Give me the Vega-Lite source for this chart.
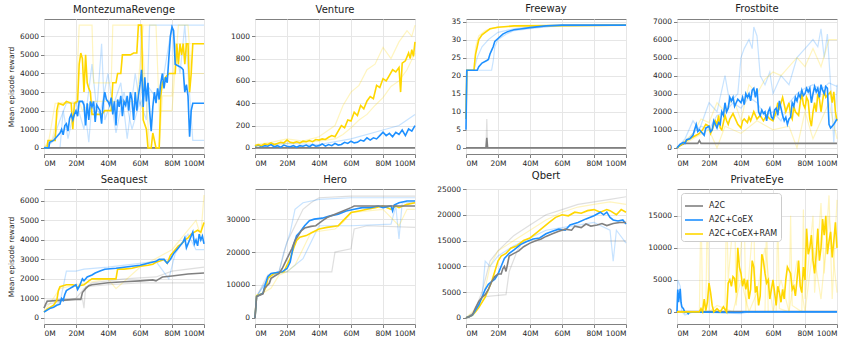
{
"$schema":"https://vega.github.io/schema/vega-lite/v6.json",
"padding":{"left":6,"top":3,"right":0,"bottom":0},
"config":{"font":"DejaVu Sans","view":{"stroke":"#808080","strokeWidth":1},
"axis":{"domain":false,"labelFontSize":7.5,"labelColor":"#262626","tickColor":"#808080","tickSize":3.5,"labelPadding":2,"gridColor":"#e6e6e6","gridWidth":1,"titleFontSize":7.5,"titleFontWeight":"normal","titleColor":"#262626","titlePadding":4},
"title":{"fontSize":10,"fontWeight":"normal","color":"#222222","offset":4},
"line":{"strokeWidth":1.6}},
"resolve":{"scale":{"x":"independent","y":"independent"},"legend":{"color":"independent"}},
"columns":4,"spacing":{"row":35,"column":51},"bounds":"flush",
"datasets":{
"mr":[
{"s":"c","r":"1","x":0,"y":0},{"s":"c","r":"1","x":10,"y":0},{"s":"c","r":"1","x":12,"y":2000},{"s":"c","r":"1","x":15,"y":500},{"s":"c","r":"1","x":20,"y":2500},{"s":"c","r":"1","x":25,"y":1000},{"s":"c","r":"1","x":30,"y":4500},{"s":"c","r":"1","x":33,"y":2000},{"s":"c","r":"1","x":36,"y":5600},{"s":"c","r":"1","x":38,"y":1500},{"s":"c","r":"1","x":42,"y":2500},{"s":"c","r":"1","x":45,"y":800},{"s":"c","r":"1","x":50,"y":3000},{"s":"c","r":"1","x":55,"y":1000},{"s":"c","r":"1","x":60,"y":2500},{"s":"c","r":"1","x":64,"y":1500},{"s":"c","r":"1","x":66,"y":6600},{"s":"c","r":"1","x":100,"y":6600},
{"s":"c","r":"2","x":0,"y":0},{"s":"c","r":"2","x":5,"y":300},{"s":"c","r":"2","x":10,"y":1500},{"s":"c","r":"2","x":14,"y":2400},{"s":"c","r":"2","x":20,"y":2400},{"s":"c","r":"2","x":25,"y":2500},{"s":"c","r":"2","x":28,"y":300},{"s":"c","r":"2","x":30,"y":2500},{"s":"c","r":"2","x":35,"y":1800},{"s":"c","r":"2","x":40,"y":4000},{"s":"c","r":"2","x":43,"y":2200},{"s":"c","r":"2","x":48,"y":3500},{"s":"c","r":"2","x":52,"y":500},{"s":"c","r":"2","x":57,"y":4000},{"s":"c","r":"2","x":60,"y":2300},{"s":"c","r":"2","x":65,"y":3300},{"s":"c","r":"2","x":70,"y":2700},{"s":"c","r":"2","x":75,"y":4000},{"s":"c","r":"2","x":80,"y":6600},{"s":"c","r":"2","x":85,"y":4000},{"s":"c","r":"2","x":88,"y":6600},{"s":"c","r":"2","x":93,"y":400},{"s":"c","r":"2","x":100,"y":400},
{"s":"r","r":"1","x":0,"y":0},{"s":"r","r":"1","x":3,"y":400},{"s":"r","r":"1","x":7,"y":2400},{"s":"r","r":"1","x":20,"y":2400},{"s":"r","r":"1","x":22,"y":6600},{"s":"r","r":"1","x":30,"y":6600},{"s":"r","r":"1","x":31,"y":3500},{"s":"r","r":"1","x":42,"y":3500},{"s":"r","r":"1","x":43,"y":6600},{"s":"r","r":"1","x":60,"y":6600},{"s":"r","r":"1","x":62,"y":5000},{"s":"r","r":"1","x":66,"y":0},{"s":"r","r":"1","x":72,"y":0},{"s":"r","r":"1","x":74,"y":2800},{"s":"r","r":"1","x":80,"y":2800},{"s":"r","r":"1","x":82,"y":5600},{"s":"r","r":"1","x":100,"y":5600},
{"s":"r","r":"2","x":0,"y":0},{"s":"r","r":"2","x":5,"y":400},{"s":"r","r":"2","x":10,"y":2400},{"s":"r","r":"2","x":22,"y":2500},{"s":"r","r":"2","x":24,"y":2000},{"s":"r","r":"2","x":30,"y":2500},{"s":"r","r":"2","x":58,"y":2500},{"s":"r","r":"2","x":62,"y":6600},{"s":"r","r":"2","x":70,"y":6600},{"s":"r","r":"2","x":72,"y":2000},{"s":"r","r":"2","x":80,"y":2000},{"s":"r","r":"2","x":84,"y":6600},{"s":"r","r":"2","x":90,"y":6600},{"s":"r","r":"2","x":92,"y":4000},{"s":"r","r":"2","x":100,"y":4000},
{"s":"a","r":"m","x":0,"y":0},{"s":"a","r":"m","x":100,"y":0},
{"s":"r","r":"m","x":0,"y":0},{"s":"r","r":"m","x":2,"y":0},{"s":"r","r":"m","x":2.5,"y":400},{"s":"r","r":"m","x":7,"y":400},{"s":"r","r":"m","x":8,"y":2000},{"s":"r","r":"m","x":9,"y":2400},{"s":"r","r":"m","x":12,"y":2300},{"s":"r","r":"m","x":14,"y":2500},{"s":"r","r":"m","x":17,"y":2400},{"s":"r","r":"m","x":18,"y":1000},{"s":"r","r":"m","x":19,"y":2400},{"s":"r","r":"m","x":21,"y":2500},{"s":"r","r":"m","x":22,"y":4500},{"s":"r","r":"m","x":23,"y":5100},{"s":"r","r":"m","x":24,"y":4800},{"s":"r","r":"m","x":25,"y":3000},{"s":"r","r":"m","x":26,"y":5000},{"s":"r","r":"m","x":27,"y":3500},{"s":"r","r":"m","x":28,"y":3200},{"s":"r","r":"m","x":29,"y":3000},{"s":"r","r":"m","x":30,"y":1800},{"s":"r","r":"m","x":36,"y":1800},{"s":"r","r":"m","x":38,"y":2000},{"s":"r","r":"m","x":42,"y":2000},{"s":"r","r":"m","x":43,"y":3500},{"s":"r","r":"m","x":45,"y":3500},{"s":"r","r":"m","x":46,"y":4000},{"s":"r","r":"m","x":48,"y":4000},{"s":"r","r":"m","x":49,"y":5000},{"s":"r","r":"m","x":54,"y":5000},{"s":"r","r":"m","x":56,"y":5100},{"s":"r","r":"m","x":58,"y":5100},{"s":"r","r":"m","x":59,"y":6600},{"s":"r","r":"m","x":61,"y":6600},{"s":"r","r":"m","x":62,"y":1500},{"s":"r","r":"m","x":64,"y":1000},{"s":"r","r":"m","x":65,"y":0},{"s":"r","r":"m","x":67,"y":0},{"s":"r","r":"m","x":68,"y":800},{"s":"r","r":"m","x":70,"y":0},{"s":"r","r":"m","x":72,"y":0},{"s":"r","r":"m","x":73,"y":2800},{"s":"r","r":"m","x":74,"y":3500},{"s":"r","r":"m","x":76,"y":3800},{"s":"r","r":"m","x":78,"y":4000},{"s":"r","r":"m","x":82,"y":4000},{"s":"r","r":"m","x":83,"y":5600},{"s":"r","r":"m","x":84,"y":4500},{"s":"r","r":"m","x":85,"y":5600},{"s":"r","r":"m","x":86,"y":5000},{"s":"r","r":"m","x":87,"y":5600},{"s":"r","r":"m","x":88,"y":4500},{"s":"r","r":"m","x":89,"y":5600},{"s":"r","r":"m","x":90,"y":5600},{"s":"r","r":"m","x":91,"y":3000},{"s":"r","r":"m","x":92,"y":4000},{"s":"r","r":"m","x":93,"y":5600},{"s":"r","r":"m","x":100,"y":5600},
{"s":"c","r":"m","x":0,"y":0},{"s":"c","r":"m","x":3,"y":0},{"s":"c","r":"m","x":3.5,"y":300},{"s":"c","r":"m","x":6,"y":400},{"s":"c","r":"m","x":8,"y":600},{"s":"c","r":"m","x":10,"y":800},{"s":"c","r":"m","x":11,"y":1000},{"s":"c","r":"m","x":12,"y":700},{"s":"c","r":"m","x":13,"y":1200},{"s":"c","r":"m","x":14,"y":1300},{"s":"c","r":"m","x":15,"y":900},{"s":"c","r":"m","x":16,"y":1600},{"s":"c","r":"m","x":17,"y":1800},{"s":"c","r":"m","x":18,"y":1500},{"s":"c","r":"m","x":19,"y":1800},{"s":"c","r":"m","x":20,"y":2000},{"s":"c","r":"m","x":21,"y":1700},{"s":"c","r":"m","x":22,"y":2500},{"s":"c","r":"m","x":24,"y":2500},{"s":"c","r":"m","x":25,"y":2300},{"s":"c","r":"m","x":26,"y":1200},{"s":"c","r":"m","x":27,"y":2400},{"s":"c","r":"m","x":28,"y":1500},{"s":"c","r":"m","x":29,"y":2500},{"s":"c","r":"m","x":30,"y":2200},{"s":"c","r":"m","x":31,"y":2500},{"s":"c","r":"m","x":32,"y":1400},{"s":"c","r":"m","x":33,"y":2300},{"s":"c","r":"m","x":35,"y":2000},{"s":"c","r":"m","x":36,"y":1300},{"s":"c","r":"m","x":37,"y":2400},{"s":"c","r":"m","x":38,"y":3000},{"s":"c","r":"m","x":39,"y":2600},{"s":"c","r":"m","x":40,"y":2500},{"s":"c","r":"m","x":41,"y":2300},{"s":"c","r":"m","x":42,"y":2700},{"s":"c","r":"m","x":43,"y":1800},{"s":"c","r":"m","x":44,"y":2500},{"s":"c","r":"m","x":45,"y":1200},{"s":"c","r":"m","x":46,"y":2600},{"s":"c","r":"m","x":47,"y":2200},{"s":"c","r":"m","x":48,"y":2800},{"s":"c","r":"m","x":49,"y":1700},{"s":"c","r":"m","x":50,"y":2500},{"s":"c","r":"m","x":51,"y":2300},{"s":"c","r":"m","x":52,"y":2800},{"s":"c","r":"m","x":53,"y":2000},{"s":"c","r":"m","x":54,"y":3000},{"s":"c","r":"m","x":55,"y":2600},{"s":"c","r":"m","x":56,"y":1500},{"s":"c","r":"m","x":57,"y":3000},{"s":"c","r":"m","x":58,"y":2000},{"s":"c","r":"m","x":59,"y":2800},{"s":"c","r":"m","x":60,"y":3400},{"s":"c","r":"m","x":61,"y":4200},{"s":"c","r":"m","x":62,"y":2200},{"s":"c","r":"m","x":63,"y":3800},{"s":"c","r":"m","x":64,"y":2500},{"s":"c","r":"m","x":65,"y":3500},{"s":"c","r":"m","x":66,"y":2000},{"s":"c","r":"m","x":67,"y":900},{"s":"c","r":"m","x":68,"y":2200},{"s":"c","r":"m","x":69,"y":3000},{"s":"c","r":"m","x":70,"y":2400},{"s":"c","r":"m","x":71,"y":3200},{"s":"c","r":"m","x":72,"y":2600},{"s":"c","r":"m","x":73,"y":3500},{"s":"c","r":"m","x":74,"y":4000},{"s":"c","r":"m","x":75,"y":3200},{"s":"c","r":"m","x":76,"y":3800},{"s":"c","r":"m","x":77,"y":3500},{"s":"c","r":"m","x":78,"y":4800},{"s":"c","r":"m","x":79,"y":6000},{"s":"c","r":"m","x":80,"y":6500},{"s":"c","r":"m","x":81,"y":6300},{"s":"c","r":"m","x":82,"y":4500},{"s":"c","r":"m","x":84,"y":4400},{"s":"c","r":"m","x":86,"y":4300},{"s":"c","r":"m","x":87,"y":4200},{"s":"c","r":"m","x":88,"y":3000},{"s":"c","r":"m","x":89,"y":3400},{"s":"c","r":"m","x":90,"y":2800},{"s":"c","r":"m","x":91,"y":600},{"s":"c","r":"m","x":92,"y":2000},{"s":"c","r":"m","x":93,"y":2400},{"s":"c","r":"m","x":100,"y":2400}
],
"ve":[
{"s":"r","r":"1","x":0,"y":30},{"s":"r","r":"1","x":10,"y":50},{"s":"r","r":"1","x":20,"y":80},{"s":"r","r":"1","x":30,"y":60},{"s":"r","r":"1","x":40,"y":100},{"s":"r","r":"1","x":50,"y":200},{"s":"r","r":"1","x":55,"y":380},{"s":"r","r":"1","x":60,"y":500},{"s":"r","r":"1","x":65,"y":560},{"s":"r","r":"1","x":70,"y":700},{"s":"r","r":"1","x":75,"y":750},{"s":"r","r":"1","x":80,"y":900},{"s":"r","r":"1","x":85,"y":800},{"s":"r","r":"1","x":90,"y":950},{"s":"r","r":"1","x":95,"y":1050},{"s":"r","r":"1","x":98,"y":1000},{"s":"r","r":"1","x":100,"y":1100},
{"s":"r","r":"2","x":0,"y":10},{"s":"r","r":"2","x":10,"y":30},{"s":"r","r":"2","x":20,"y":40},{"s":"r","r":"2","x":30,"y":50},{"s":"r","r":"2","x":40,"y":60},{"s":"r","r":"2","x":50,"y":80},{"s":"r","r":"2","x":55,"y":120},{"s":"r","r":"2","x":60,"y":180},{"s":"r","r":"2","x":65,"y":250},{"s":"r","r":"2","x":70,"y":300},{"s":"r","r":"2","x":75,"y":380},{"s":"r","r":"2","x":80,"y":450},{"s":"r","r":"2","x":85,"y":550},{"s":"r","r":"2","x":90,"y":600},{"s":"r","r":"2","x":95,"y":700},{"s":"r","r":"2","x":100,"y":850},
{"s":"c","r":"1","x":0,"y":20},{"s":"c","r":"1","x":20,"y":40},{"s":"c","r":"1","x":40,"y":30},{"s":"c","r":"1","x":60,"y":80},{"s":"c","r":"1","x":80,"y":160},{"s":"c","r":"1","x":90,"y":200},{"s":"c","r":"1","x":100,"y":300},
{"s":"a","r":"m","x":0,"y":0},{"s":"a","r":"m","x":100,"y":0},
{"s":"c","r":"m","x":0,"y":15},{"s":"c","r":"m","x":2,"y":25},{"s":"c","r":"m","x":4,"y":10},{"s":"c","r":"m","x":6,"y":20},{"s":"c","r":"m","x":8,"y":15},{"s":"c","r":"m","x":10,"y":30},{"s":"c","r":"m","x":12,"y":10},{"s":"c","r":"m","x":14,"y":20},{"s":"c","r":"m","x":16,"y":5},{"s":"c","r":"m","x":18,"y":25},{"s":"c","r":"m","x":20,"y":15},{"s":"c","r":"m","x":22,"y":10},{"s":"c","r":"m","x":24,"y":20},{"s":"c","r":"m","x":26,"y":5},{"s":"c","r":"m","x":28,"y":20},{"s":"c","r":"m","x":30,"y":15},{"s":"c","r":"m","x":32,"y":25},{"s":"c","r":"m","x":34,"y":10},{"s":"c","r":"m","x":36,"y":30},{"s":"c","r":"m","x":38,"y":15},{"s":"c","r":"m","x":40,"y":20},{"s":"c","r":"m","x":42,"y":35},{"s":"c","r":"m","x":44,"y":15},{"s":"c","r":"m","x":46,"y":30},{"s":"c","r":"m","x":48,"y":20},{"s":"c","r":"m","x":50,"y":40},{"s":"c","r":"m","x":52,"y":25},{"s":"c","r":"m","x":54,"y":30},{"s":"c","r":"m","x":56,"y":50},{"s":"c","r":"m","x":58,"y":40},{"s":"c","r":"m","x":60,"y":60},{"s":"c","r":"m","x":62,"y":45},{"s":"c","r":"m","x":64,"y":50},{"s":"c","r":"m","x":66,"y":70},{"s":"c","r":"m","x":68,"y":60},{"s":"c","r":"m","x":70,"y":90},{"s":"c","r":"m","x":72,"y":70},{"s":"c","r":"m","x":74,"y":90},{"s":"c","r":"m","x":76,"y":80},{"s":"c","r":"m","x":78,"y":110},{"s":"c","r":"m","x":80,"y":140},{"s":"c","r":"m","x":82,"y":110},{"s":"c","r":"m","x":84,"y":130},{"s":"c","r":"m","x":86,"y":100},{"s":"c","r":"m","x":88,"y":140},{"s":"c","r":"m","x":90,"y":120},{"s":"c","r":"m","x":92,"y":160},{"s":"c","r":"m","x":94,"y":110},{"s":"c","r":"m","x":96,"y":170},{"s":"c","r":"m","x":98,"y":150},{"s":"c","r":"m","x":100,"y":200},
{"s":"r","r":"m","x":0,"y":20},{"s":"r","r":"m","x":2,"y":30},{"s":"r","r":"m","x":4,"y":20},{"s":"r","r":"m","x":6,"y":35},{"s":"r","r":"m","x":8,"y":30},{"s":"r","r":"m","x":10,"y":45},{"s":"r","r":"m","x":12,"y":30},{"s":"r","r":"m","x":14,"y":40},{"s":"r","r":"m","x":16,"y":50},{"s":"r","r":"m","x":18,"y":45},{"s":"r","r":"m","x":20,"y":70},{"s":"r","r":"m","x":22,"y":50},{"s":"r","r":"m","x":24,"y":45},{"s":"r","r":"m","x":26,"y":55},{"s":"r","r":"m","x":28,"y":45},{"s":"r","r":"m","x":30,"y":60},{"s":"r","r":"m","x":32,"y":55},{"s":"r","r":"m","x":34,"y":65},{"s":"r","r":"m","x":36,"y":55},{"s":"r","r":"m","x":38,"y":75},{"s":"r","r":"m","x":40,"y":70},{"s":"r","r":"m","x":42,"y":80},{"s":"r","r":"m","x":44,"y":75},{"s":"r","r":"m","x":46,"y":95},{"s":"r","r":"m","x":48,"y":110},{"s":"r","r":"m","x":50,"y":100},{"s":"r","r":"m","x":52,"y":150},{"s":"r","r":"m","x":54,"y":200},{"s":"r","r":"m","x":56,"y":180},{"s":"r","r":"m","x":58,"y":250},{"s":"r","r":"m","x":60,"y":240},{"s":"r","r":"m","x":62,"y":320},{"s":"r","r":"m","x":64,"y":290},{"s":"r","r":"m","x":66,"y":380},{"s":"r","r":"m","x":68,"y":350},{"s":"r","r":"m","x":70,"y":420},{"s":"r","r":"m","x":72,"y":460},{"s":"r","r":"m","x":74,"y":440},{"s":"r","r":"m","x":76,"y":560},{"s":"r","r":"m","x":78,"y":540},{"s":"r","r":"m","x":80,"y":620},{"s":"r","r":"m","x":82,"y":600},{"s":"r","r":"m","x":84,"y":650},{"s":"r","r":"m","x":86,"y":700},{"s":"r","r":"m","x":88,"y":680},{"s":"r","r":"m","x":90,"y":720},{"s":"r","r":"m","x":91,"y":500},{"s":"r","r":"m","x":92,"y":760},{"s":"r","r":"m","x":94,"y":780},{"s":"r","r":"m","x":96,"y":850},{"s":"r","r":"m","x":97,"y":800},{"s":"r","r":"m","x":98,"y":880},{"s":"r","r":"m","x":99,"y":820},{"s":"r","r":"m","x":100,"y":950}
],
"fr":[
{"s":"a","r":"1","x":0,"y":0},{"s":"a","r":"1","x":12.5,"y":0},{"s":"a","r":"1","x":13,"y":8},{"s":"a","r":"1","x":13.5,"y":0},{"s":"a","r":"1","x":100,"y":0},
{"s":"c","r":"1","x":0,"y":8},{"s":"c","r":"1","x":0.5,"y":21.5},{"s":"c","r":"1","x":16,"y":21.5},{"s":"c","r":"1","x":17,"y":24},{"s":"c","r":"1","x":18,"y":28},{"s":"c","r":"1","x":20,"y":30},{"s":"c","r":"1","x":25,"y":31.5},{"s":"c","r":"1","x":30,"y":32.5},{"s":"c","r":"1","x":40,"y":33},{"s":"c","r":"1","x":50,"y":33.5},{"s":"c","r":"1","x":60,"y":34},{"s":"c","r":"1","x":100,"y":34},
{"s":"c","r":"2","x":0,"y":8},{"s":"c","r":"2","x":0.5,"y":21.5},{"s":"c","r":"2","x":5,"y":21.5},{"s":"c","r":"2","x":7,"y":25},{"s":"c","r":"2","x":10,"y":28},{"s":"c","r":"2","x":14,"y":30},{"s":"c","r":"2","x":20,"y":32},{"s":"c","r":"2","x":30,"y":33},{"s":"c","r":"2","x":40,"y":33.5},{"s":"c","r":"2","x":100,"y":34},
{"s":"r","r":"1","x":0,"y":8},{"s":"r","r":"1","x":0.5,"y":21.5},{"s":"r","r":"1","x":5,"y":21.5},{"s":"r","r":"1","x":6,"y":28},{"s":"r","r":"1","x":8,"y":31},{"s":"r","r":"1","x":12,"y":32.5},{"s":"r","r":"1","x":20,"y":33.5},{"s":"r","r":"1","x":100,"y":34},
{"s":"a","r":"m","x":0,"y":0},{"s":"a","r":"m","x":12.5,"y":0},{"s":"a","r":"m","x":13,"y":2.8},{"s":"a","r":"m","x":13.5,"y":0},{"s":"a","r":"m","x":100,"y":0},
{"s":"r","r":"m","x":0,"y":8},{"s":"r","r":"m","x":0.5,"y":21.5},{"s":"r","r":"m","x":5,"y":21.5},{"s":"r","r":"m","x":5.5,"y":24},{"s":"r","r":"m","x":6,"y":26},{"s":"r","r":"m","x":7,"y":28},{"s":"r","r":"m","x":8,"y":30},{"s":"r","r":"m","x":10,"y":31.3},{"s":"r","r":"m","x":12,"y":32},{"s":"r","r":"m","x":15,"y":33},{"s":"r","r":"m","x":20,"y":33.4},{"s":"r","r":"m","x":30,"y":33.8},{"s":"r","r":"m","x":100,"y":34},
{"s":"c","r":"m","x":0,"y":5},{"s":"c","r":"m","x":0.5,"y":21.5},{"s":"c","r":"m","x":7,"y":21.5},{"s":"c","r":"m","x":8,"y":22.5},{"s":"c","r":"m","x":10,"y":23.5},{"s":"c","r":"m","x":13,"y":24.2},{"s":"c","r":"m","x":14,"y":24.5},{"s":"c","r":"m","x":15,"y":26},{"s":"c","r":"m","x":16,"y":27},{"s":"c","r":"m","x":17,"y":28},{"s":"c","r":"m","x":18,"y":29.5},{"s":"c","r":"m","x":20,"y":30.3},{"s":"c","r":"m","x":23,"y":31.5},{"s":"c","r":"m","x":26,"y":32.2},{"s":"c","r":"m","x":30,"y":32.7},{"s":"c","r":"m","x":35,"y":33},{"s":"c","r":"m","x":40,"y":33.3},{"s":"c","r":"m","x":50,"y":33.8},{"s":"c","r":"m","x":60,"y":34},{"s":"c","r":"m","x":100,"y":34}
],
"fb":[
{"s":"c","r":"1","x":0,"y":0},{"s":"c","r":"1","x":5,"y":500},{"s":"c","r":"1","x":10,"y":1500},{"s":"c","r":"1","x":14,"y":1000},{"s":"c","r":"1","x":20,"y":2500},{"s":"c","r":"1","x":25,"y":2000},{"s":"c","r":"1","x":30,"y":4000},{"s":"c","r":"1","x":33,"y":2500},{"s":"c","r":"1","x":38,"y":3000},{"s":"c","r":"1","x":40,"y":5000},{"s":"c","r":"1","x":42,"y":5500},{"s":"c","r":"1","x":45,"y":6000},{"s":"c","r":"1","x":47,"y":5500},{"s":"c","r":"1","x":48,"y":6700},{"s":"c","r":"1","x":50,"y":6200},{"s":"c","r":"1","x":52,"y":4000},{"s":"c","r":"1","x":55,"y":3500},{"s":"c","r":"1","x":58,"y":4200},{"s":"c","r":"1","x":60,"y":3000},{"s":"c","r":"1","x":65,"y":4000},{"s":"c","r":"1","x":70,"y":3500},{"s":"c","r":"1","x":75,"y":5000},{"s":"c","r":"1","x":80,"y":5500},{"s":"c","r":"1","x":85,"y":6000},{"s":"c","r":"1","x":88,"y":5600},{"s":"c","r":"1","x":90,"y":6600},{"s":"c","r":"1","x":92,"y":5000},{"s":"c","r":"1","x":94,"y":6300},{"s":"c","r":"1","x":96,"y":3500},{"s":"c","r":"1","x":98,"y":300},{"s":"c","r":"1","x":100,"y":3500},
{"s":"c","r":"2","x":0,"y":0},{"s":"c","r":"2","x":5,"y":300},{"s":"c","r":"2","x":10,"y":800},{"s":"c","r":"2","x":15,"y":1200},{"s":"c","r":"2","x":20,"y":1000},{"s":"c","r":"2","x":25,"y":1800},{"s":"c","r":"2","x":30,"y":2000},{"s":"c","r":"2","x":35,"y":2500},{"s":"c","r":"2","x":40,"y":2200},{"s":"c","r":"2","x":45,"y":2800},{"s":"c","r":"2","x":50,"y":2500},{"s":"c","r":"2","x":55,"y":1800},{"s":"c","r":"2","x":60,"y":2000},{"s":"c","r":"2","x":65,"y":1500},{"s":"c","r":"2","x":70,"y":2500},{"s":"c","r":"2","x":75,"y":3000},{"s":"c","r":"2","x":80,"y":3300},{"s":"c","r":"2","x":85,"y":3500},{"s":"c","r":"2","x":90,"y":3200},{"s":"c","r":"2","x":95,"y":3600},{"s":"c","r":"2","x":100,"y":3400},
{"s":"r","r":"1","x":0,"y":0},{"s":"r","r":"1","x":5,"y":400},{"s":"r","r":"1","x":10,"y":800},{"s":"r","r":"1","x":15,"y":1600},{"s":"r","r":"1","x":20,"y":1400},{"s":"r","r":"1","x":25,"y":2500},{"s":"r","r":"1","x":30,"y":2000},{"s":"r","r":"1","x":35,"y":2800},{"s":"r","r":"1","x":40,"y":1500},{"s":"r","r":"1","x":45,"y":3500},{"s":"r","r":"1","x":50,"y":3000},{"s":"r","r":"1","x":55,"y":3800},{"s":"r","r":"1","x":60,"y":4200},{"s":"r","r":"1","x":65,"y":4000},{"s":"r","r":"1","x":70,"y":4500},{"s":"r","r":"1","x":75,"y":5000},{"s":"r","r":"1","x":80,"y":4500},{"s":"r","r":"1","x":85,"y":5500},{"s":"r","r":"1","x":90,"y":4500},{"s":"r","r":"1","x":95,"y":6000},{"s":"r","r":"1","x":100,"y":6000},
{"s":"r","r":"2","x":0,"y":0},{"s":"r","r":"2","x":10,"y":500},{"s":"r","r":"2","x":20,"y":1000},{"s":"r","r":"2","x":25,"y":0},{"s":"r","r":"2","x":30,"y":1200},{"s":"r","r":"2","x":40,"y":800},{"s":"r","r":"2","x":50,"y":1500},{"s":"r","r":"2","x":60,"y":1000},{"s":"r","r":"2","x":70,"y":1200},{"s":"r","r":"2","x":75,"y":0},{"s":"r","r":"2","x":80,"y":2000},{"s":"r","r":"2","x":85,"y":500},{"s":"r","r":"2","x":90,"y":1500},{"s":"r","r":"2","x":95,"y":2500},{"s":"r","r":"2","x":100,"y":500},
{"s":"a","r":"m","x":0,"y":0},{"s":"a","r":"m","x":2,"y":150},{"s":"a","r":"m","x":5,"y":250},{"s":"a","r":"m","x":13,"y":250},{"s":"a","r":"m","x":14,"y":400},{"s":"a","r":"m","x":15,"y":250},{"s":"a","r":"m","x":100,"y":250},
{"s":"r","r":"m","x":0,"y":0},{"s":"r","r":"m","x":3,"y":200},{"s":"r","r":"m","x":6,"y":400},{"s":"r","r":"m","x":8,"y":500},{"s":"r","r":"m","x":10,"y":600},{"s":"r","r":"m","x":12,"y":700},{"s":"r","r":"m","x":14,"y":800},{"s":"r","r":"m","x":16,"y":1000},{"s":"r","r":"m","x":18,"y":1300},{"s":"r","r":"m","x":20,"y":1200},{"s":"r","r":"m","x":21,"y":800},{"s":"r","r":"m","x":22,"y":1000},{"s":"r","r":"m","x":24,"y":1500},{"s":"r","r":"m","x":25,"y":1300},{"s":"r","r":"m","x":26,"y":1800},{"s":"r","r":"m","x":27,"y":1100},{"s":"r","r":"m","x":28,"y":1000},{"s":"r","r":"m","x":29,"y":1400},{"s":"r","r":"m","x":30,"y":1800},{"s":"r","r":"m","x":31,"y":1500},{"s":"r","r":"m","x":32,"y":1300},{"s":"r","r":"m","x":33,"y":1600},{"s":"r","r":"m","x":35,"y":1900},{"s":"r","r":"m","x":36,"y":1700},{"s":"r","r":"m","x":38,"y":1300},{"s":"r","r":"m","x":40,"y":1100},{"s":"r","r":"m","x":41,"y":1500},{"s":"r","r":"m","x":42,"y":1600},{"s":"r","r":"m","x":44,"y":1400},{"s":"r","r":"m","x":45,"y":1700},{"s":"r","r":"m","x":46,"y":1500},{"s":"r","r":"m","x":48,"y":2000},{"s":"r","r":"m","x":50,"y":1600},{"s":"r","r":"m","x":52,"y":1800},{"s":"r","r":"m","x":54,"y":1500},{"s":"r","r":"m","x":56,"y":1800},{"s":"r","r":"m","x":58,"y":1600},{"s":"r","r":"m","x":60,"y":1500},{"s":"r","r":"m","x":62,"y":2000},{"s":"r","r":"m","x":63,"y":2500},{"s":"r","r":"m","x":64,"y":2200},{"s":"r","r":"m","x":66,"y":2800},{"s":"r","r":"m","x":67,"y":2400},{"s":"r","r":"m","x":68,"y":2000},{"s":"r","r":"m","x":70,"y":2500},{"s":"r","r":"m","x":71,"y":1800},{"s":"r","r":"m","x":72,"y":1600},{"s":"r","r":"m","x":73,"y":2300},{"s":"r","r":"m","x":74,"y":2000},{"s":"r","r":"m","x":76,"y":1800},{"s":"r","r":"m","x":77,"y":2500},{"s":"r","r":"m","x":78,"y":3000},{"s":"r","r":"m","x":79,"y":2400},{"s":"r","r":"m","x":80,"y":2200},{"s":"r","r":"m","x":81,"y":2800},{"s":"r","r":"m","x":82,"y":2600},{"s":"r","r":"m","x":83,"y":1600},{"s":"r","r":"m","x":84,"y":1200},{"s":"r","r":"m","x":85,"y":2000},{"s":"r","r":"m","x":86,"y":2500},{"s":"r","r":"m","x":87,"y":2000},{"s":"r","r":"m","x":88,"y":3000},{"s":"r","r":"m","x":89,"y":2700},{"s":"r","r":"m","x":90,"y":2000},{"s":"r","r":"m","x":91,"y":2600},{"s":"r","r":"m","x":92,"y":3200},{"s":"r","r":"m","x":93,"y":2800},{"s":"r","r":"m","x":94,"y":2900},{"s":"r","r":"m","x":96,"y":3100},{"s":"r","r":"m","x":97,"y":2500},{"s":"r","r":"m","x":98,"y":3100},{"s":"r","r":"m","x":99,"y":2000},{"s":"r","r":"m","x":100,"y":1500},
{"s":"c","r":"m","x":0,"y":0},{"s":"c","r":"m","x":2,"y":200},{"s":"c","r":"m","x":4,"y":300},{"s":"c","r":"m","x":5,"y":250},{"s":"c","r":"m","x":6,"y":450},{"s":"c","r":"m","x":8,"y":500},{"s":"c","r":"m","x":10,"y":700},{"s":"c","r":"m","x":11,"y":1000},{"s":"c","r":"m","x":12,"y":1300},{"s":"c","r":"m","x":13,"y":900},{"s":"c","r":"m","x":14,"y":1000},{"s":"c","r":"m","x":16,"y":800},{"s":"c","r":"m","x":17,"y":700},{"s":"c","r":"m","x":18,"y":1100},{"s":"c","r":"m","x":20,"y":1200},{"s":"c","r":"m","x":21,"y":900},{"s":"c","r":"m","x":22,"y":1000},{"s":"c","r":"m","x":23,"y":1500},{"s":"c","r":"m","x":24,"y":1300},{"s":"c","r":"m","x":25,"y":1100},{"s":"c","r":"m","x":26,"y":1400},{"s":"c","r":"m","x":27,"y":1300},{"s":"c","r":"m","x":28,"y":2000},{"s":"c","r":"m","x":29,"y":1800},{"s":"c","r":"m","x":30,"y":2500},{"s":"c","r":"m","x":31,"y":2000},{"s":"c","r":"m","x":32,"y":2200},{"s":"c","r":"m","x":33,"y":2800},{"s":"c","r":"m","x":34,"y":2600},{"s":"c","r":"m","x":35,"y":2800},{"s":"c","r":"m","x":36,"y":2300},{"s":"c","r":"m","x":37,"y":2500},{"s":"c","r":"m","x":38,"y":2700},{"s":"c","r":"m","x":40,"y":2500},{"s":"c","r":"m","x":41,"y":2800},{"s":"c","r":"m","x":42,"y":2400},{"s":"c","r":"m","x":43,"y":3000},{"s":"c","r":"m","x":44,"y":2800},{"s":"c","r":"m","x":45,"y":3000},{"s":"c","r":"m","x":46,"y":2600},{"s":"c","r":"m","x":47,"y":3200},{"s":"c","r":"m","x":48,"y":3300},{"s":"c","r":"m","x":49,"y":2800},{"s":"c","r":"m","x":50,"y":3300},{"s":"c","r":"m","x":51,"y":2000},{"s":"c","r":"m","x":52,"y":1800},{"s":"c","r":"m","x":53,"y":2100},{"s":"c","r":"m","x":54,"y":1900},{"s":"c","r":"m","x":55,"y":2000},{"s":"c","r":"m","x":56,"y":1500},{"s":"c","r":"m","x":57,"y":2000},{"s":"c","r":"m","x":58,"y":2200},{"s":"c","r":"m","x":59,"y":1700},{"s":"c","r":"m","x":60,"y":1600},{"s":"c","r":"m","x":61,"y":2100},{"s":"c","r":"m","x":62,"y":2200},{"s":"c","r":"m","x":63,"y":1800},{"s":"c","r":"m","x":64,"y":2600},{"s":"c","r":"m","x":65,"y":2200},{"s":"c","r":"m","x":66,"y":1800},{"s":"c","r":"m","x":67,"y":1500},{"s":"c","r":"m","x":68,"y":1700},{"s":"c","r":"m","x":69,"y":1300},{"s":"c","r":"m","x":70,"y":1600},{"s":"c","r":"m","x":71,"y":1700},{"s":"c","r":"m","x":72,"y":2500},{"s":"c","r":"m","x":73,"y":2300},{"s":"c","r":"m","x":74,"y":2800},{"s":"c","r":"m","x":75,"y":2600},{"s":"c","r":"m","x":76,"y":3000},{"s":"c","r":"m","x":77,"y":2800},{"s":"c","r":"m","x":78,"y":3200},{"s":"c","r":"m","x":79,"y":2900},{"s":"c","r":"m","x":80,"y":3000},{"s":"c","r":"m","x":81,"y":3300},{"s":"c","r":"m","x":82,"y":3100},{"s":"c","r":"m","x":83,"y":3300},{"s":"c","r":"m","x":84,"y":2500},{"s":"c","r":"m","x":85,"y":3000},{"s":"c","r":"m","x":86,"y":3400},{"s":"c","r":"m","x":87,"y":3100},{"s":"c","r":"m","x":88,"y":3300},{"s":"c","r":"m","x":89,"y":2800},{"s":"c","r":"m","x":90,"y":3500},{"s":"c","r":"m","x":91,"y":3200},{"s":"c","r":"m","x":92,"y":3000},{"s":"c","r":"m","x":93,"y":3400},{"s":"c","r":"m","x":94,"y":3300},{"s":"c","r":"m","x":95,"y":1300},{"s":"c","r":"m","x":96,"y":1100},{"s":"c","r":"m","x":97,"y":1200},{"s":"c","r":"m","x":98,"y":1300},{"s":"c","r":"m","x":100,"y":1600}
],
"sq":[
{"s":"a","r":"1","x":0,"y":500},{"s":"a","r":"1","x":2,"y":700},{"s":"a","r":"1","x":20,"y":1000},{"s":"a","r":"1","x":24,"y":1000},{"s":"a","r":"1","x":25,"y":500},{"s":"a","r":"1","x":26,"y":1600},{"s":"a","r":"1","x":40,"y":1700},{"s":"a","r":"1","x":60,"y":1800},{"s":"a","r":"1","x":100,"y":1800},
{"s":"a","r":"2","x":0,"y":500},{"s":"a","r":"2","x":2,"y":900},{"s":"a","r":"2","x":20,"y":1000},{"s":"a","r":"2","x":25,"y":1500},{"s":"a","r":"2","x":30,"y":1800},{"s":"a","r":"2","x":50,"y":2000},{"s":"a","r":"2","x":70,"y":2100},{"s":"a","r":"2","x":80,"y":2400},{"s":"a","r":"2","x":90,"y":2500},{"s":"a","r":"2","x":100,"y":2600},
{"s":"c","r":"1","x":0,"y":300},{"s":"c","r":"1","x":10,"y":800},{"s":"c","r":"1","x":14,"y":2400},{"s":"c","r":"1","x":20,"y":2400},{"s":"c","r":"1","x":25,"y":2500},{"s":"c","r":"1","x":40,"y":2600},{"s":"c","r":"1","x":60,"y":2800},{"s":"c","r":"1","x":70,"y":2900},{"s":"c","r":"1","x":78,"y":2000},{"s":"c","r":"1","x":82,"y":3300},{"s":"c","r":"1","x":90,"y":4300},{"s":"c","r":"1","x":95,"y":3500},{"s":"c","r":"1","x":100,"y":3500},
{"s":"r","r":"1","x":0,"y":300},{"s":"r","r":"1","x":10,"y":1500},{"s":"r","r":"1","x":20,"y":1700},{"s":"r","r":"1","x":40,"y":2000},{"s":"r","r":"1","x":45,"y":1500},{"s":"r","r":"1","x":60,"y":2600},{"s":"r","r":"1","x":80,"y":3500},{"s":"r","r":"1","x":90,"y":4500},{"s":"r","r":"1","x":95,"y":5000},{"s":"r","r":"1","x":98,"y":4200},{"s":"r","r":"1","x":100,"y":6300},
{"s":"a","r":"m","x":0,"y":500},{"s":"a","r":"m","x":1,"y":700},{"s":"a","r":"m","x":2,"y":850},{"s":"a","r":"m","x":10,"y":900},{"s":"a","r":"m","x":20,"y":950},{"s":"a","r":"m","x":23,"y":950},{"s":"a","r":"m","x":24,"y":1300},{"s":"a","r":"m","x":26,"y":1500},{"s":"a","r":"m","x":28,"y":1650},{"s":"a","r":"m","x":30,"y":1700},{"s":"a","r":"m","x":40,"y":1800},{"s":"a","r":"m","x":50,"y":1850},{"s":"a","r":"m","x":60,"y":1900},{"s":"a","r":"m","x":68,"y":1950},{"s":"a","r":"m","x":70,"y":1900},{"s":"a","r":"m","x":71,"y":1950},{"s":"a","r":"m","x":74,"y":2100},{"s":"a","r":"m","x":80,"y":2150},{"s":"a","r":"m","x":90,"y":2250},{"s":"a","r":"m","x":100,"y":2300},
{"s":"r","r":"m","x":0,"y":300},{"s":"r","r":"m","x":2,"y":450},{"s":"r","r":"m","x":4,"y":550},{"s":"r","r":"m","x":6,"y":650},{"s":"r","r":"m","x":8,"y":900},{"s":"r","r":"m","x":9,"y":1400},{"s":"r","r":"m","x":10,"y":1600},{"s":"r","r":"m","x":14,"y":1700},{"s":"r","r":"m","x":18,"y":1700},{"s":"r","r":"m","x":20,"y":1650},{"s":"r","r":"m","x":21,"y":1500},{"s":"r","r":"m","x":22,"y":1650},{"s":"r","r":"m","x":25,"y":1700},{"s":"r","r":"m","x":28,"y":1900},{"s":"r","r":"m","x":30,"y":2000},{"s":"r","r":"m","x":45,"y":2000},{"s":"r","r":"m","x":46,"y":2500},{"s":"r","r":"m","x":50,"y":2500},{"s":"r","r":"m","x":55,"y":2550},{"s":"r","r":"m","x":60,"y":2650},{"s":"r","r":"m","x":65,"y":2700},{"s":"r","r":"m","x":68,"y":2750},{"s":"r","r":"m","x":70,"y":2850},{"s":"r","r":"m","x":72,"y":2900},{"s":"r","r":"m","x":75,"y":3000},{"s":"r","r":"m","x":77,"y":2800},{"s":"r","r":"m","x":79,"y":3200},{"s":"r","r":"m","x":82,"y":3500},{"s":"r","r":"m","x":84,"y":3700},{"s":"r","r":"m","x":86,"y":3800},{"s":"r","r":"m","x":88,"y":4000},{"s":"r","r":"m","x":90,"y":4100},{"s":"r","r":"m","x":92,"y":4300},{"s":"r","r":"m","x":94,"y":4400},{"s":"r","r":"m","x":96,"y":4500},{"s":"r","r":"m","x":98,"y":4400},{"s":"r","r":"m","x":100,"y":4900},
{"s":"c","r":"m","x":0,"y":300},{"s":"c","r":"m","x":2,"y":400},{"s":"c","r":"m","x":4,"y":500},{"s":"c","r":"m","x":6,"y":550},{"s":"c","r":"m","x":8,"y":650},{"s":"c","r":"m","x":10,"y":700},{"s":"c","r":"m","x":11,"y":1000},{"s":"c","r":"m","x":12,"y":900},{"s":"c","r":"m","x":13,"y":1200},{"s":"c","r":"m","x":14,"y":1400},{"s":"c","r":"m","x":16,"y":1500},{"s":"c","r":"m","x":18,"y":1600},{"s":"c","r":"m","x":20,"y":1700},{"s":"c","r":"m","x":21,"y":1450},{"s":"c","r":"m","x":22,"y":1600},{"s":"c","r":"m","x":24,"y":2000},{"s":"c","r":"m","x":25,"y":1900},{"s":"c","r":"m","x":27,"y":2100},{"s":"c","r":"m","x":30,"y":2200},{"s":"c","r":"m","x":32,"y":2300},{"s":"c","r":"m","x":35,"y":2400},{"s":"c","r":"m","x":38,"y":2500},{"s":"c","r":"m","x":45,"y":2550},{"s":"c","r":"m","x":50,"y":2600},{"s":"c","r":"m","x":55,"y":2650},{"s":"c","r":"m","x":60,"y":2700},{"s":"c","r":"m","x":65,"y":2800},{"s":"c","r":"m","x":70,"y":2900},{"s":"c","r":"m","x":72,"y":3000},{"s":"c","r":"m","x":75,"y":3000},{"s":"c","r":"m","x":77,"y":2800},{"s":"c","r":"m","x":79,"y":3000},{"s":"c","r":"m","x":81,"y":3300},{"s":"c","r":"m","x":83,"y":3500},{"s":"c","r":"m","x":85,"y":3700},{"s":"c","r":"m","x":87,"y":3900},{"s":"c","r":"m","x":88,"y":4100},{"s":"c","r":"m","x":89,"y":3600},{"s":"c","r":"m","x":90,"y":3800},{"s":"c","r":"m","x":92,"y":4200},{"s":"c","r":"m","x":93,"y":4400},{"s":"c","r":"m","x":94,"y":3800},{"s":"c","r":"m","x":95,"y":4000},{"s":"c","r":"m","x":96,"y":3700},{"s":"c","r":"m","x":97,"y":4300},{"s":"c","r":"m","x":98,"y":4000},{"s":"c","r":"m","x":99,"y":4200},{"s":"c","r":"m","x":100,"y":3800}
],
"he":[
{"s":"a","r":"1","x":0,"y":0},{"s":"a","r":"1","x":1,"y":6500},{"s":"a","r":"1","x":5,"y":7500},{"s":"a","r":"1","x":7,"y":10000},{"s":"a","r":"1","x":14,"y":14000},{"s":"a","r":"1","x":48,"y":14000},{"s":"a","r":"1","x":50,"y":20000},{"s":"a","r":"1","x":60,"y":21000},{"s":"a","r":"1","x":62,"y":27000},{"s":"a","r":"1","x":70,"y":28000},{"s":"a","r":"1","x":100,"y":27500},
{"s":"a","r":"2","x":0,"y":0},{"s":"a","r":"2","x":1,"y":6500},{"s":"a","r":"2","x":8,"y":13000},{"s":"a","r":"2","x":15,"y":14000},{"s":"a","r":"2","x":20,"y":23000},{"s":"a","r":"2","x":25,"y":28000},{"s":"a","r":"2","x":30,"y":33000},{"s":"a","r":"2","x":35,"y":35000},{"s":"a","r":"2","x":40,"y":36500},{"s":"a","r":"2","x":60,"y":37000},{"s":"a","r":"2","x":100,"y":37000},
{"s":"c","r":"1","x":0,"y":0},{"s":"c","r":"1","x":1,"y":6500},{"s":"c","r":"1","x":10,"y":13500},{"s":"c","r":"1","x":15,"y":14000},{"s":"c","r":"1","x":18,"y":20000},{"s":"c","r":"1","x":22,"y":26000},{"s":"c","r":"1","x":25,"y":33000},{"s":"c","r":"1","x":30,"y":35000},{"s":"c","r":"1","x":40,"y":36000},{"s":"c","r":"1","x":60,"y":36500},{"s":"c","r":"1","x":100,"y":36500},
{"s":"c","r":"2","x":0,"y":0},{"s":"c","r":"2","x":1,"y":6500},{"s":"c","r":"2","x":10,"y":13000},{"s":"c","r":"2","x":20,"y":14000},{"s":"c","r":"2","x":30,"y":18000},{"s":"c","r":"2","x":40,"y":28000},{"s":"c","r":"2","x":60,"y":28000},{"s":"c","r":"2","x":85,"y":28500},{"s":"c","r":"2","x":88,"y":34000},{"s":"c","r":"2","x":90,"y":24000},{"s":"c","r":"2","x":92,"y":35000},{"s":"c","r":"2","x":100,"y":35000},
{"s":"r","r":"1","x":0,"y":0},{"s":"r","r":"1","x":1,"y":6500},{"s":"r","r":"1","x":10,"y":9000},{"s":"r","r":"1","x":15,"y":13000},{"s":"r","r":"1","x":20,"y":14000},{"s":"r","r":"1","x":25,"y":16000},{"s":"r","r":"1","x":35,"y":26000},{"s":"r","r":"1","x":50,"y":27000},{"s":"r","r":"1","x":55,"y":29000},{"s":"r","r":"1","x":60,"y":32000},{"s":"r","r":"1","x":80,"y":33000},{"s":"r","r":"1","x":90,"y":28000},{"s":"r","r":"1","x":95,"y":33000},{"s":"r","r":"1","x":100,"y":33000},
{"s":"r","r":"m","x":0,"y":0},{"s":"r","r":"m","x":1,"y":6800},{"s":"r","r":"m","x":5,"y":7500},{"s":"r","r":"m","x":7,"y":9500},{"s":"r","r":"m","x":8,"y":12000},{"s":"r","r":"m","x":12,"y":13500},{"s":"r","r":"m","x":18,"y":14000},{"s":"r","r":"m","x":20,"y":16000},{"s":"r","r":"m","x":22,"y":18000},{"s":"r","r":"m","x":24,"y":21000},{"s":"r","r":"m","x":26,"y":23500},{"s":"r","r":"m","x":28,"y":24500},{"s":"r","r":"m","x":32,"y":25000},{"s":"r","r":"m","x":36,"y":26000},{"s":"r","r":"m","x":40,"y":27000},{"s":"r","r":"m","x":45,"y":27500},{"s":"r","r":"m","x":52,"y":28000},{"s":"r","r":"m","x":56,"y":30000},{"s":"r","r":"m","x":60,"y":32000},{"s":"r","r":"m","x":65,"y":32500},{"s":"r","r":"m","x":70,"y":33000},{"s":"r","r":"m","x":75,"y":33500},{"s":"r","r":"m","x":80,"y":34000},{"s":"r","r":"m","x":85,"y":33000},{"s":"r","r":"m","x":88,"y":34000},{"s":"r","r":"m","x":90,"y":33500},{"s":"r","r":"m","x":95,"y":34500},{"s":"r","r":"m","x":100,"y":35000},
{"s":"c","r":"m","x":0,"y":0},{"s":"c","r":"m","x":1,"y":6500},{"s":"c","r":"m","x":5,"y":7500},{"s":"c","r":"m","x":6,"y":9500},{"s":"c","r":"m","x":8,"y":12500},{"s":"c","r":"m","x":10,"y":13500},{"s":"c","r":"m","x":17,"y":14000},{"s":"c","r":"m","x":20,"y":15000},{"s":"c","r":"m","x":22,"y":17000},{"s":"c","r":"m","x":24,"y":22000},{"s":"c","r":"m","x":26,"y":25000},{"s":"c","r":"m","x":28,"y":26000},{"s":"c","r":"m","x":31,"y":28000},{"s":"c","r":"m","x":34,"y":29500},{"s":"c","r":"m","x":37,"y":30000},{"s":"c","r":"m","x":42,"y":30300},{"s":"c","r":"m","x":47,"y":31000},{"s":"c","r":"m","x":52,"y":31500},{"s":"c","r":"m","x":57,"y":32500},{"s":"c","r":"m","x":62,"y":33000},{"s":"c","r":"m","x":67,"y":33500},{"s":"c","r":"m","x":72,"y":33500},{"s":"c","r":"m","x":77,"y":34000},{"s":"c","r":"m","x":80,"y":33500},{"s":"c","r":"m","x":85,"y":34000},{"s":"c","r":"m","x":86,"y":32500},{"s":"c","r":"m","x":87,"y":34300},{"s":"c","r":"m","x":90,"y":35000},{"s":"c","r":"m","x":95,"y":35500},{"s":"c","r":"m","x":100,"y":35500},
{"s":"a","r":"m","x":0,"y":0},{"s":"a","r":"m","x":1,"y":6500},{"s":"a","r":"m","x":5,"y":7300},{"s":"a","r":"m","x":6,"y":9000},{"s":"a","r":"m","x":9,"y":10500},{"s":"a","r":"m","x":10,"y":12000},{"s":"a","r":"m","x":15,"y":13500},{"s":"a","r":"m","x":17,"y":15000},{"s":"a","r":"m","x":19,"y":17000},{"s":"a","r":"m","x":21,"y":19000},{"s":"a","r":"m","x":23,"y":21000},{"s":"a","r":"m","x":25,"y":23500},{"s":"a","r":"m","x":27,"y":25000},{"s":"a","r":"m","x":29,"y":26500},{"s":"a","r":"m","x":31,"y":27300},{"s":"a","r":"m","x":35,"y":27800},{"s":"a","r":"m","x":38,"y":28000},{"s":"a","r":"m","x":42,"y":29500},{"s":"a","r":"m","x":45,"y":30500},{"s":"a","r":"m","x":50,"y":31500},{"s":"a","r":"m","x":55,"y":32500},{"s":"a","r":"m","x":60,"y":33500},{"s":"a","r":"m","x":62,"y":34000},{"s":"a","r":"m","x":100,"y":34000}
],
"qb":[
{"s":"a","r":"1","x":0,"y":0},{"s":"a","r":"1","x":5,"y":1000},{"s":"a","r":"1","x":10,"y":4000},{"s":"a","r":"1","x":15,"y":4200},{"s":"a","r":"1","x":25,"y":4500},{"s":"a","r":"1","x":27,"y":9000},{"s":"a","r":"1","x":32,"y":13000},{"s":"a","r":"1","x":35,"y":14500},{"s":"a","r":"1","x":40,"y":15000},{"s":"a","r":"1","x":100,"y":15000},
{"s":"a","r":"2","x":0,"y":0},{"s":"a","r":"2","x":5,"y":1000},{"s":"a","r":"2","x":10,"y":5000},{"s":"a","r":"2","x":15,"y":11000},{"s":"a","r":"2","x":20,"y":13000},{"s":"a","r":"2","x":30,"y":16000},{"s":"a","r":"2","x":40,"y":18000},{"s":"a","r":"2","x":50,"y":20000},{"s":"a","r":"2","x":60,"y":21000},{"s":"a","r":"2","x":70,"y":22000},{"s":"a","r":"2","x":80,"y":22500},{"s":"a","r":"2","x":90,"y":23000},{"s":"a","r":"2","x":100,"y":23500},
{"s":"c","r":"1","x":0,"y":0},{"s":"c","r":"1","x":5,"y":1000},{"s":"c","r":"1","x":10,"y":4000},{"s":"c","r":"1","x":12,"y":11000},{"s":"c","r":"1","x":15,"y":10000},{"s":"c","r":"1","x":20,"y":12000},{"s":"c","r":"1","x":30,"y":14000},{"s":"c","r":"1","x":40,"y":15500},{"s":"c","r":"1","x":50,"y":17000},{"s":"c","r":"1","x":60,"y":17500},{"s":"c","r":"1","x":70,"y":18000},{"s":"c","r":"1","x":80,"y":18500},{"s":"c","r":"1","x":90,"y":17000},{"s":"c","r":"1","x":92,"y":11000},{"s":"c","r":"1","x":94,"y":17000},{"s":"c","r":"1","x":100,"y":14500},
{"s":"r","r":"1","x":0,"y":0},{"s":"r","r":"1","x":10,"y":3000},{"s":"r","r":"1","x":15,"y":10000},{"s":"r","r":"1","x":20,"y":13000},{"s":"r","r":"1","x":30,"y":15000},{"s":"r","r":"1","x":40,"y":17000},{"s":"r","r":"1","x":50,"y":19000},{"s":"r","r":"1","x":60,"y":20500},{"s":"r","r":"1","x":70,"y":21500},{"s":"r","r":"1","x":80,"y":22000},{"s":"r","r":"1","x":90,"y":22500},{"s":"r","r":"1","x":100,"y":22000},
{"s":"r","r":"m","x":0,"y":0},{"s":"r","r":"m","x":2,"y":200},{"s":"r","r":"m","x":4,"y":500},{"s":"r","r":"m","x":6,"y":1200},{"s":"r","r":"m","x":8,"y":2000},{"s":"r","r":"m","x":10,"y":3000},{"s":"r","r":"m","x":12,"y":4000},{"s":"r","r":"m","x":14,"y":5500},{"s":"r","r":"m","x":16,"y":7000},{"s":"r","r":"m","x":18,"y":9000},{"s":"r","r":"m","x":20,"y":11000},{"s":"r","r":"m","x":22,"y":12000},{"s":"r","r":"m","x":25,"y":12500},{"s":"r","r":"m","x":28,"y":13500},{"s":"r","r":"m","x":32,"y":14000},{"s":"r","r":"m","x":36,"y":15000},{"s":"r","r":"m","x":40,"y":15500},{"s":"r","r":"m","x":44,"y":16500},{"s":"r","r":"m","x":48,"y":17500},{"s":"r","r":"m","x":52,"y":18500},{"s":"r","r":"m","x":56,"y":19500},{"s":"r","r":"m","x":60,"y":20000},{"s":"r","r":"m","x":64,"y":19800},{"s":"r","r":"m","x":68,"y":20500},{"s":"r","r":"m","x":72,"y":20300},{"s":"r","r":"m","x":76,"y":20800},{"s":"r","r":"m","x":80,"y":21000},{"s":"r","r":"m","x":84,"y":20500},{"s":"r","r":"m","x":88,"y":21000},{"s":"r","r":"m","x":90,"y":20800},{"s":"r","r":"m","x":94,"y":20000},{"s":"r","r":"m","x":97,"y":21000},{"s":"r","r":"m","x":100,"y":20500},
{"s":"c","r":"m","x":0,"y":0},{"s":"c","r":"m","x":2,"y":200},{"s":"c","r":"m","x":4,"y":500},{"s":"c","r":"m","x":6,"y":1500},{"s":"c","r":"m","x":8,"y":2500},{"s":"c","r":"m","x":10,"y":4000},{"s":"c","r":"m","x":12,"y":5500},{"s":"c","r":"m","x":14,"y":6500},{"s":"c","r":"m","x":16,"y":7000},{"s":"c","r":"m","x":18,"y":7500},{"s":"c","r":"m","x":20,"y":8500},{"s":"c","r":"m","x":22,"y":10000},{"s":"c","r":"m","x":24,"y":11500},{"s":"c","r":"m","x":27,"y":12500},{"s":"c","r":"m","x":30,"y":13200},{"s":"c","r":"m","x":34,"y":14200},{"s":"c","r":"m","x":38,"y":14800},{"s":"c","r":"m","x":42,"y":15300},{"s":"c","r":"m","x":46,"y":15500},{"s":"c","r":"m","x":50,"y":16300},{"s":"c","r":"m","x":54,"y":16800},{"s":"c","r":"m","x":58,"y":17200},{"s":"c","r":"m","x":62,"y":17000},{"s":"c","r":"m","x":65,"y":18000},{"s":"c","r":"m","x":70,"y":18500},{"s":"c","r":"m","x":75,"y":19200},{"s":"c","r":"m","x":80,"y":19800},{"s":"c","r":"m","x":84,"y":20500},{"s":"c","r":"m","x":86,"y":20000},{"s":"c","r":"m","x":88,"y":20500},{"s":"c","r":"m","x":90,"y":19500},{"s":"c","r":"m","x":92,"y":19000},{"s":"c","r":"m","x":95,"y":18800},{"s":"c","r":"m","x":98,"y":19000},{"s":"c","r":"m","x":100,"y":18200},
{"s":"a","r":"m","x":0,"y":0},{"s":"a","r":"m","x":2,"y":200},{"s":"a","r":"m","x":4,"y":600},{"s":"a","r":"m","x":6,"y":2000},{"s":"a","r":"m","x":8,"y":3200},{"s":"a","r":"m","x":10,"y":4000},{"s":"a","r":"m","x":12,"y":4500},{"s":"a","r":"m","x":14,"y":5500},{"s":"a","r":"m","x":16,"y":7000},{"s":"a","r":"m","x":18,"y":8000},{"s":"a","r":"m","x":20,"y":8500},{"s":"a","r":"m","x":22,"y":8500},{"s":"a","r":"m","x":23,"y":9500},{"s":"a","r":"m","x":24,"y":10000},{"s":"a","r":"m","x":25,"y":9000},{"s":"a","r":"m","x":26,"y":10500},{"s":"a","r":"m","x":27,"y":12000},{"s":"a","r":"m","x":30,"y":12500},{"s":"a","r":"m","x":33,"y":13000},{"s":"a","r":"m","x":36,"y":13800},{"s":"a","r":"m","x":40,"y":14500},{"s":"a","r":"m","x":44,"y":15000},{"s":"a","r":"m","x":47,"y":15300},{"s":"a","r":"m","x":50,"y":15800},{"s":"a","r":"m","x":54,"y":16300},{"s":"a","r":"m","x":58,"y":16800},{"s":"a","r":"m","x":62,"y":17200},{"s":"a","r":"m","x":66,"y":17000},{"s":"a","r":"m","x":68,"y":17800},{"s":"a","r":"m","x":72,"y":17500},{"s":"a","r":"m","x":75,"y":18200},{"s":"a","r":"m","x":78,"y":17800},{"s":"a","r":"m","x":82,"y":18000},{"s":"a","r":"m","x":85,"y":18300},{"s":"a","r":"m","x":88,"y":17900},{"s":"a","r":"m","x":92,"y":18300},{"s":"a","r":"m","x":96,"y":18500},{"s":"a","r":"m","x":100,"y":18500}
],
"pe":[
{"s":"r","r":"1","x":0,"y":0},{"s":"r","r":"1","x":14,"y":0},{"s":"r","r":"1","x":15,"y":17500},{"s":"r","r":"1","x":16,"y":0},{"s":"r","r":"1","x":18,"y":0},{"s":"r","r":"1","x":19,"y":17500},{"s":"r","r":"1","x":20,"y":0},{"s":"r","r":"1","x":30,"y":0},{"s":"r","r":"1","x":31,"y":17500},{"s":"r","r":"1","x":32,"y":5000},{"s":"r","r":"1","x":36,"y":17000},{"s":"r","r":"1","x":37,"y":1000},{"s":"r","r":"1","x":42,"y":16000},{"s":"r","r":"1","x":43,"y":0},{"s":"r","r":"1","x":48,"y":15000},{"s":"r","r":"1","x":49,"y":0},{"s":"r","r":"1","x":55,"y":0},{"s":"r","r":"1","x":56,"y":15000},{"s":"r","r":"1","x":57,"y":0},{"s":"r","r":"1","x":62,"y":0},{"s":"r","r":"1","x":63,"y":16000},{"s":"r","r":"1","x":64,"y":500},{"s":"r","r":"1","x":70,"y":0},{"s":"r","r":"1","x":71,"y":15000},{"s":"r","r":"1","x":72,"y":1000},{"s":"r","r":"1","x":78,"y":0},{"s":"r","r":"1","x":79,"y":16000},{"s":"r","r":"1","x":80,"y":2000},{"s":"r","r":"1","x":85,"y":15000},{"s":"r","r":"1","x":86,"y":3000},{"s":"r","r":"1","x":90,"y":17000},{"s":"r","r":"1","x":92,"y":6000},{"s":"r","r":"1","x":95,"y":18200},{"s":"r","r":"1","x":97,"y":2000},{"s":"r","r":"1","x":100,"y":17500},
{"s":"r","r":"2","x":0,"y":0},{"s":"r","r":"2","x":20,"y":0},{"s":"r","r":"2","x":25,"y":1000},{"s":"r","r":"2","x":35,"y":0},{"s":"r","r":"2","x":40,"y":5000},{"s":"r","r":"2","x":45,"y":0},{"s":"r","r":"2","x":50,"y":3000},{"s":"r","r":"2","x":55,"y":10000},{"s":"r","r":"2","x":60,"y":0},{"s":"r","r":"2","x":65,"y":5000},{"s":"r","r":"2","x":70,"y":0},{"s":"r","r":"2","x":75,"y":8000},{"s":"r","r":"2","x":80,"y":0},{"s":"r","r":"2","x":85,"y":10000},{"s":"r","r":"2","x":90,"y":2000},{"s":"r","r":"2","x":95,"y":15000},{"s":"r","r":"2","x":100,"y":3000},
{"s":"c","r":"1","x":0,"y":0},{"s":"c","r":"1","x":0.5,"y":5000},{"s":"c","r":"1","x":2,"y":4000},{"s":"c","r":"1","x":3,"y":0},{"s":"c","r":"1","x":5,"y":-500},{"s":"c","r":"1","x":10,"y":0},{"s":"c","r":"1","x":40,"y":-300},{"s":"c","r":"1","x":45,"y":0},{"s":"c","r":"1","x":100,"y":0},
{"s":"a","r":"m","x":0,"y":50},{"s":"a","r":"m","x":100,"y":50},
{"s":"c","r":"m","x":0,"y":0},{"s":"c","r":"m","x":0.5,"y":3500},{"s":"c","r":"m","x":1,"y":1500},{"s":"c","r":"m","x":1.5,"y":2500},{"s":"c","r":"m","x":2,"y":3600},{"s":"c","r":"m","x":2.5,"y":1500},{"s":"c","r":"m","x":3,"y":800},{"s":"c","r":"m","x":4,"y":500},{"s":"c","r":"m","x":5,"y":-100},{"s":"c","r":"m","x":6,"y":0},{"s":"c","r":"m","x":7,"y":-300},{"s":"c","r":"m","x":8,"y":0},{"s":"c","r":"m","x":40,"y":-100},{"s":"c","r":"m","x":42,"y":0},{"s":"c","r":"m","x":100,"y":0},
{"s":"r","r":"m","x":0,"y":0},{"s":"r","r":"m","x":14,"y":0},{"s":"r","r":"m","x":15,"y":500},{"s":"r","r":"m","x":16,"y":0},{"s":"r","r":"m","x":17,"y":2000},{"s":"r","r":"m","x":18,"y":200},{"s":"r","r":"m","x":19,"y":1500},{"s":"r","r":"m","x":20,"y":4500},{"s":"r","r":"m","x":21,"y":3000},{"s":"r","r":"m","x":22,"y":1000},{"s":"r","r":"m","x":23,"y":0},{"s":"r","r":"m","x":25,"y":500},{"s":"r","r":"m","x":27,"y":0},{"s":"r","r":"m","x":29,"y":800},{"s":"r","r":"m","x":31,"y":0},{"s":"r","r":"m","x":32,"y":4500},{"s":"r","r":"m","x":33,"y":5000},{"s":"r","r":"m","x":34,"y":4000},{"s":"r","r":"m","x":35,"y":5500},{"s":"r","r":"m","x":36,"y":5200},{"s":"r","r":"m","x":37,"y":3000},{"s":"r","r":"m","x":38,"y":10000},{"s":"r","r":"m","x":39,"y":7000},{"s":"r","r":"m","x":40,"y":6000},{"s":"r","r":"m","x":41,"y":4000},{"s":"r","r":"m","x":42,"y":5200},{"s":"r","r":"m","x":43,"y":3500},{"s":"r","r":"m","x":44,"y":5000},{"s":"r","r":"m","x":45,"y":2000},{"s":"r","r":"m","x":46,"y":3500},{"s":"r","r":"m","x":47,"y":8000},{"s":"r","r":"m","x":48,"y":7000},{"s":"r","r":"m","x":49,"y":3000},{"s":"r","r":"m","x":50,"y":4000},{"s":"r","r":"m","x":51,"y":1000},{"s":"r","r":"m","x":52,"y":2500},{"s":"r","r":"m","x":53,"y":9000},{"s":"r","r":"m","x":54,"y":8000},{"s":"r","r":"m","x":55,"y":6000},{"s":"r","r":"m","x":56,"y":4500},{"s":"r","r":"m","x":57,"y":5000},{"s":"r","r":"m","x":58,"y":2000},{"s":"r","r":"m","x":59,"y":3500},{"s":"r","r":"m","x":60,"y":5000},{"s":"r","r":"m","x":61,"y":3000},{"s":"r","r":"m","x":62,"y":1000},{"s":"r","r":"m","x":63,"y":4000},{"s":"r","r":"m","x":64,"y":3000},{"s":"r","r":"m","x":65,"y":1500},{"s":"r","r":"m","x":66,"y":3500},{"s":"r","r":"m","x":67,"y":2000},{"s":"r","r":"m","x":68,"y":5000},{"s":"r","r":"m","x":69,"y":7000},{"s":"r","r":"m","x":70,"y":6500},{"s":"r","r":"m","x":71,"y":6000},{"s":"r","r":"m","x":72,"y":3500},{"s":"r","r":"m","x":73,"y":4000},{"s":"r","r":"m","x":74,"y":2500},{"s":"r","r":"m","x":75,"y":5000},{"s":"r","r":"m","x":76,"y":8000},{"s":"r","r":"m","x":77,"y":4000},{"s":"r","r":"m","x":78,"y":3000},{"s":"r","r":"m","x":79,"y":7000},{"s":"r","r":"m","x":80,"y":5000},{"s":"r","r":"m","x":81,"y":13000},{"s":"r","r":"m","x":82,"y":9000},{"s":"r","r":"m","x":83,"y":10000},{"s":"r","r":"m","x":84,"y":12000},{"s":"r","r":"m","x":85,"y":8000},{"s":"r","r":"m","x":86,"y":6000},{"s":"r","r":"m","x":87,"y":9000},{"s":"r","r":"m","x":88,"y":13000},{"s":"r","r":"m","x":89,"y":8000},{"s":"r","r":"m","x":90,"y":10000},{"s":"r","r":"m","x":91,"y":14500},{"s":"r","r":"m","x":92,"y":12000},{"s":"r","r":"m","x":93,"y":15000},{"s":"r","r":"m","x":94,"y":9000},{"s":"r","r":"m","x":95,"y":11000},{"s":"r","r":"m","x":96,"y":12500},{"s":"r","r":"m","x":97,"y":8500},{"s":"r","r":"m","x":98,"y":11000},{"s":"r","r":"m","x":99,"y":14000},{"s":"r","r":"m","x":100,"y":10000}
]
},
"concat":[
{"title":"MontezumaRevenge","width":160,"height":135,"data":{"name":"mr"},
"encoding":{"x":{"field":"x","type":"quantitative","scale":{"domain":[0,100],"nice":false},"axis":{"values":[0,20,40,60,80,100],"labelExpr":"datum.value+'M'","title":null}},
"y":{"field":"y","type":"quantitative","scale":{"domain":[-330,6930],"nice":false,"zero":false},"axis":{"values":[0,1000,2000,3000,4000,5000,6000],"format":"d","title":"Mean episode reward"}},
"color":{"field":"s","type":"nominal","scale":{"domain":["a","c","r"],"range":["#808080","#1e90ff","#ffd700"]},"legend":null},"detail":{"field":"r"}},
"layer":[{"transform":[{"filter":"datum.r!='m'"}],"mark":{"type":"line","opacity":0.25,"strokeWidth":1.2}},{"transform":[{"filter":"datum.r=='m'"}],"mark":{"type":"line"}}]},
{"title":"Venture","width":160,"height":135,"data":{"name":"ve"},
"encoding":{"x":{"field":"x","type":"quantitative","scale":{"domain":[0,100],"nice":false},"axis":{"values":[0,20,40,60,80,100],"labelExpr":"datum.value+'M'","title":null}},
"y":{"field":"y","type":"quantitative","scale":{"domain":[-55,1155],"nice":false,"zero":false},"axis":{"values":[0,200,400,600,800,1000],"format":"d","title":null}},
"color":{"field":"s","type":"nominal","scale":{"domain":["a","c","r"],"range":["#808080","#1e90ff","#ffd700"]},"legend":null},"detail":{"field":"r"}},
"layer":[{"transform":[{"filter":"datum.r!='m'"}],"mark":{"type":"line","opacity":0.25,"strokeWidth":1.2}},{"transform":[{"filter":"datum.r=='m'"}],"mark":{"type":"line"}}]},
{"title":"Freeway","width":160,"height":135,"data":{"name":"fr"},
"encoding":{"x":{"field":"x","type":"quantitative","scale":{"domain":[0,100],"nice":false},"axis":{"values":[0,20,40,60,80,100],"labelExpr":"datum.value+'M'","title":null}},
"y":{"field":"y","type":"quantitative","scale":{"domain":[-1.7,35.7],"nice":false,"zero":false},"axis":{"values":[0,5,10,15,20,25,30,35],"format":"d","title":null}},
"color":{"field":"s","type":"nominal","scale":{"domain":["a","c","r"],"range":["#808080","#1e90ff","#ffd700"]},"legend":null},"detail":{"field":"r"}},
"layer":[{"transform":[{"filter":"datum.r!='m'"}],"mark":{"type":"line","opacity":0.25,"strokeWidth":1.2}},{"transform":[{"filter":"datum.r=='m'"}],"mark":{"type":"line"}}]},
{"title":"Frostbite","width":160,"height":135,"data":{"name":"fb"},
"encoding":{"x":{"field":"x","type":"quantitative","scale":{"domain":[0,100],"nice":false},"axis":{"values":[0,20,40,60,80,100],"labelExpr":"datum.value+'M'","title":null}},
"y":{"field":"y","type":"quantitative","scale":{"domain":[-340,7140],"nice":false,"zero":false},"axis":{"values":[0,1000,2000,3000,4000,5000,6000,7000],"format":"d","title":null}},
"color":{"field":"s","type":"nominal","scale":{"domain":["a","c","r"],"range":["#808080","#1e90ff","#ffd700"]},"legend":null},"detail":{"field":"r"}},
"layer":[{"transform":[{"filter":"datum.r!='m'"}],"mark":{"type":"line","opacity":0.25,"strokeWidth":1.2}},{"transform":[{"filter":"datum.r=='m'"}],"mark":{"type":"line"}}]},
{"title":"Seaquest","width":160,"height":135,"data":{"name":"sq"},
"encoding":{"x":{"field":"x","type":"quantitative","scale":{"domain":[0,100],"nice":false},"axis":{"values":[0,20,40,60,80,100],"labelExpr":"datum.value+'M'","title":null}},
"y":{"field":"y","type":"quantitative","scale":{"domain":[-315,6615],"nice":false,"zero":false},"axis":{"values":[0,1000,2000,3000,4000,5000,6000],"format":"d","title":"Mean episode reward"}},
"color":{"field":"s","type":"nominal","scale":{"domain":["a","c","r"],"range":["#808080","#1e90ff","#ffd700"]},"legend":null},"detail":{"field":"r"}},
"layer":[{"transform":[{"filter":"datum.r!='m'"}],"mark":{"type":"line","opacity":0.25,"strokeWidth":1.2}},{"transform":[{"filter":"datum.r=='m'"}],"mark":{"type":"line"}}]},
{"title":"Hero","width":160,"height":135,"data":{"name":"he"},
"encoding":{"x":{"field":"x","type":"quantitative","scale":{"domain":[0,100],"nice":false},"axis":{"values":[0,20,40,60,80,100],"labelExpr":"datum.value+'M'","title":null}},
"y":{"field":"y","type":"quantitative","scale":{"domain":[-1865,39165],"nice":false,"zero":false},"axis":{"values":[0,10000,20000,30000],"format":"d","title":null}},
"color":{"field":"s","type":"nominal","scale":{"domain":["a","c","r"],"range":["#808080","#1e90ff","#ffd700"]},"legend":null},"detail":{"field":"r"}},
"layer":[{"transform":[{"filter":"datum.r!='m'"}],"mark":{"type":"line","opacity":0.25,"strokeWidth":1.2}},{"transform":[{"filter":"datum.r=='m'"}],"mark":{"type":"line"}}]},
{"title":"Qbert","width":160,"height":135,"data":{"name":"qb"},
"encoding":{"x":{"field":"x","type":"quantitative","scale":{"domain":[0,100],"nice":false},"axis":{"values":[0,20,40,60,80,100],"labelExpr":"datum.value+'M'","title":null}},
"y":{"field":"y","type":"quantitative","scale":{"domain":[-1200,25000],"nice":false,"zero":false},"axis":{"values":[0,5000,10000,15000,20000,25000],"format":"d","title":null}},
"color":{"field":"s","type":"nominal","scale":{"domain":["a","c","r"],"range":["#808080","#1e90ff","#ffd700"]},"legend":null},"detail":{"field":"r"}},
"layer":[{"transform":[{"filter":"datum.r!='m'"}],"mark":{"type":"line","opacity":0.25,"strokeWidth":1.2}},{"transform":[{"filter":"datum.r=='m'"}],"mark":{"type":"line"}}]},
{"title":"PrivateEye","width":160,"height":135,"data":{"name":"pe"},
"encoding":{"x":{"field":"x","type":"quantitative","scale":{"domain":[0,100],"nice":false},"axis":{"values":[0,20,40,60,80,100],"labelExpr":"datum.value+'M'","title":null}},
"y":{"field":"y","type":"quantitative","scale":{"domain":[-1900,19200],"nice":false,"zero":false},"axis":{"values":[0,5000,10000,15000],"format":"d","title":null}},
"color":{"field":"s","type":"nominal","scale":{"domain":["a","c","r"],"range":["#808080","#1e90ff","#ffd700"]},"legend":{"orient":"top-left","title":null,"symbolType":"stroke","symbolSize":324,"symbolStrokeWidth":1.8,"symbolOpacity":1,"labelFontSize":8,"labelColor":"#262626","labelOffset":5,"labelExpr":"datum.label=='a'?'A2C':datum.label=='c'?'A2C+CoEX':'A2C+CoEX+RAM'","strokeColor":"#cccccc","fillColor":"#ffffff","padding":3,"cornerRadius":3,"offset":4,"rowPadding":0}},"detail":{"field":"r"}},
"layer":[{"transform":[{"filter":"datum.r!='m'"}],"mark":{"type":"line","opacity":0.25,"strokeWidth":1.2}},{"transform":[{"filter":"datum.r=='m'"}],"mark":{"type":"line"}}]}
]
}
